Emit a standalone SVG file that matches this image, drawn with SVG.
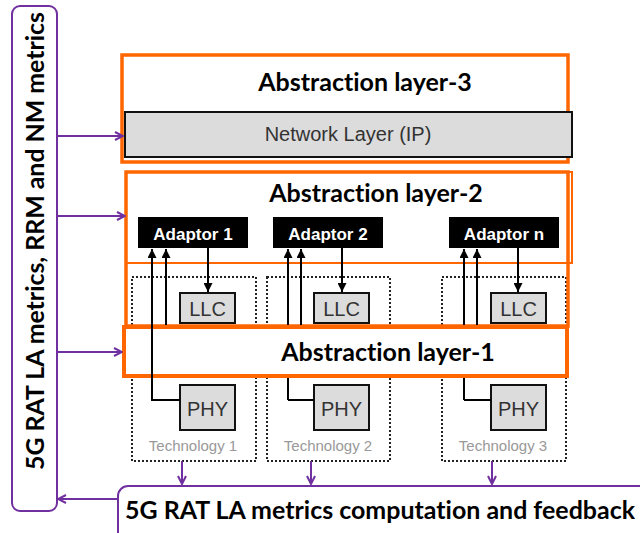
<svg xmlns="http://www.w3.org/2000/svg" width="640" height="533" viewBox="0 0 640 533">
<defs>
<style>
.or{fill:none;stroke:#FF6600;stroke-width:3.5}
.pu{fill:none;stroke:#7030A0;stroke-width:2}
.pul{stroke:#7030A0;stroke-width:2;fill:none;marker-end:url(#pa)}
.bl{stroke:#000;stroke-width:2;fill:none}
.bla{stroke:#000;stroke-width:2;fill:none;marker-end:url(#ba)}
.dot{fill:none;stroke:#222;stroke-width:2;stroke-dasharray:2 2}
.gb{fill:#dcdcdc;stroke:#111;stroke-width:2}
.ad{fill:#000}
.t1{font-family:Lato,"Open Sans",sans-serif;font-weight:bold;font-size:25px;fill:#000;font-variant-ligatures:none}
.at{font-family:"Liberation Sans",Arial,sans-serif;font-weight:bold;font-size:17px;fill:#fff;text-anchor:middle}
.ga{font-family:"Liberation Sans",Arial,sans-serif;font-size:20px;fill:#333;text-anchor:middle}
.tc{font-family:"Liberation Sans",Arial,sans-serif;font-size:15px;fill:#999;text-anchor:middle}
</style>
<marker id="pa" viewBox="0 0 10 10" refX="9" refY="5" markerWidth="10" markerHeight="10" markerUnits="userSpaceOnUse" orient="auto">
<path d="M1,1 L9,5 L1,9" fill="none" stroke="#7030A0" stroke-width="2"/>
</marker>
<marker id="ba" viewBox="0 0 10 10" refX="10" refY="5" markerWidth="9" markerHeight="9" markerUnits="userSpaceOnUse" orient="auto">
<path d="M0,0 L10,5 L0,10 Z" fill="#000"/>
</marker>
</defs>

<g id="left-metrics">
<rect x="12" y="6" width="45" height="505" rx="8" class="pu"/>
<text class="t1" font-size="24" transform="translate(44,241) rotate(-90)" text-anchor="middle" textLength="458" lengthAdjust="spacingAndGlyphs">5G RAT LA metrics, RRM  and NM metrics</text>
</g>

<g id="layer3">
<rect x="122" y="55" width="446" height="107" class="or"/>
<text class="t1" x="365" y="91" text-anchor="middle">Abstraction layer-3</text>
</g>
<g id="network-layer">
<rect x="125" y="112" width="447" height="45" class="gb"/>
<text class="ga" x="348" y="141">Network Layer (IP)</text>
</g>

<g id="tech1">
<rect x="132" y="277" width="124" height="184" class="dot"/>
<text class="tc" x="193" y="451">Technology 1</text>
</g>
<g id="tech2">
<rect x="267" y="277" width="123" height="184" class="dot"/>
<text class="tc" x="328" y="451">Technology 2</text>
</g>
<g id="tech3">
<rect x="442" y="277" width="124" height="184" class="dot"/>
<text class="tc" x="503" y="451">Technology 3</text>
</g>

<g id="layer2">
<rect x="126" y="172" width="442" height="154" class="or"/>
<rect x="126" y="172" width="446" height="91" fill="none" stroke="#FF6600" stroke-width="2"/>
<text class="t1" x="376" y="202" text-anchor="middle">Abstraction layer-2</text>
</g>

<g id="adaptor1"><rect x="138" y="217" width="110" height="31" class="ad"/><text class="at" x="193" y="240">Adaptor 1</text></g>
<g id="adaptor2"><rect x="273" y="217" width="110" height="31" class="ad"/><text class="at" x="328" y="240">Adaptor 2</text></g>
<g id="adaptorn"><rect x="449" y="217" width="110" height="31" class="ad"/><text class="at" x="504" y="240">Adaptor n</text></g>

<g id="llc1"><rect x="180" y="293" width="55" height="30" class="gb"/><text class="ga" x="207.5" y="316">LLC</text></g>
<g id="llc2"><rect x="314" y="293" width="55" height="30" class="gb"/><text class="ga" x="341.5" y="316">LLC</text></g>
<g id="llc3"><rect x="491" y="293" width="55" height="30" class="gb"/><text class="ga" x="518.5" y="316">LLC</text></g>

<g id="phy1"><rect x="180" y="385" width="55" height="45" class="gb"/><text class="ga" x="207.5" y="416" font-size="22">PHY</text></g>
<g id="phy2"><rect x="314" y="385" width="55" height="45" class="gb"/><text class="ga" x="341.5" y="416" font-size="22">PHY</text></g>
<g id="phy3"><rect x="491" y="385" width="55" height="45" class="gb"/><text class="ga" x="518.5" y="416" font-size="22">PHY</text></g>

<g id="connectors-black">
<path class="bla" d="M166,326 V249"/>
<path class="bla" d="M208,248 V292"/>
<path class="bl" d="M288,400 H314"/>
<path class="bla" d="M288,400 V249"/>
<path class="bla" d="M301,326 V249"/>
<path class="bla" d="M342,248 V292"/>
<path class="bl" d="M464,400 H491"/>
<path class="bla" d="M464,400 V249"/>
<path class="bla" d="M477,326 V249"/>
<path class="bla" d="M518,248 V292"/>
</g>

<g id="layer1">
<rect x="124" y="327" width="443" height="49" fill="#fff" stroke="#FF6600" stroke-width="4"/>
<text class="t1" x="388" y="361" text-anchor="middle">Abstraction layer-1</text>
</g>

<g id="connector-tech1-phy">
<path class="bl" d="M180,400 H152 V249"/>
<path class="bla" d="M152,260 V249"/>
</g>

<g id="feedback">
<rect x="118" y="486" width="540" height="60" rx="10" class="pu"/>
<text class="t1" font-size="24" x="125" y="519" textLength="510" lengthAdjust="spacingAndGlyphs">5G RAT LA metrics computation and feedback</text>
</g>

<g id="connectors-purple">
<path class="pul" d="M57,136 H123"/>
<path class="pul" d="M57,216 H125"/>
<path class="pul" d="M57,352 H122"/>
<path class="pul" d="M118,499 H58"/>
<path class="pul" d="M182,461 V484"/>
<path class="pul" d="M311,461 V484"/>
<path class="pul" d="M492,461 V484"/>
</g>
</svg>
